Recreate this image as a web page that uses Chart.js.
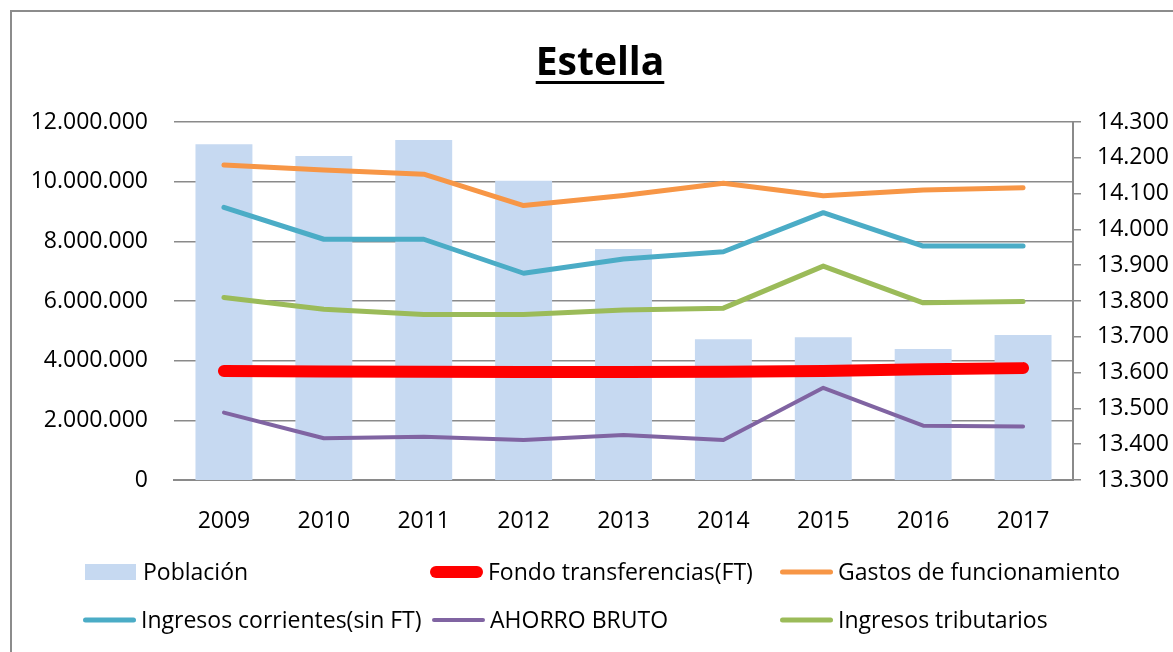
<!DOCTYPE html>
<html>
<head>
<meta charset="utf-8">
<script src="https://cdn.jsdelivr.net/npm/chart.js@4.4.0/dist/chart.umd.min.js"></script>
<style>
  body { margin: 0; background: #fff; }
  #wrap { width: 1173px; height: 652px; position: relative; }
</style>
</head>
<body>
<div id="wrap"><canvas id="chart" width="1173" height="652"></canvas></div>
<script>
// ---------------- DATA ----------------
const years = ['2009', '2010', '2011', '2012', '2013', '2014', '2015', '2016', '2017'];
const poblacion = [14238, 14205, 14250, 14136, 13945, 13693, 13699, 13666, 13705];
const fondoFT = [3655000, 3640000, 3630000, 3620000, 3620000, 3625000, 3650000, 3710000, 3750000];
const gastos = [10560000, 10390000, 10250000, 9200000, 9540000, 9950000, 9530000, 9720000, 9800000];
const ingresosCorrientes = [9140000, 8070000, 8070000, 6930000, 7410000, 7650000, 8960000, 7840000, 7840000];
const ahorroBruto = [2260000, 1400000, 1450000, 1340000, 1510000, 1340000, 3090000, 1820000, 1790000];
const tributarios = [6120000, 5720000, 5550000, 5550000, 5700000, 5760000, 7170000, 5940000, 5980000];
const leftTicks = [0, 2000000, 4000000, 6000000, 8000000, 10000000, 12000000];
const rightTicks = [13300, 13400, 13500, 13600, 13700, 13800, 13900, 14000, 14100, 14200, 14300];

const FONT = '"Open Sans", "Liberation Sans", sans-serif';
const GRID = '#8a8a8a';

function dots(v) {
    return String(v).replace(/\B(?=(\d{3})+(?!\d))/g, '.');
}

function line(label, data, color, width) {
    return {
        type: 'line', label, data, yAxisID: 'y',
        borderColor: color, backgroundColor: color, borderWidth: width,
        borderCapStyle: 'round', borderJoinStyle: 'round',
        pointRadius: 0, tension: 0, order: 1
    };
}

// frame, underlined title and the two-row legend
const decor = {
    id: 'decor',
    beforeDraw(chart) {
        const ctx = chart.ctx;
        ctx.save();
        ctx.fillStyle = '#fff';
        ctx.fillRect(0, 0, chart.width, chart.height);
        ctx.strokeStyle = '#8c8c8c';
        ctx.lineWidth = 2;
        ctx.beginPath();
        ctx.moveTo(11, chart.height);
        ctx.lineTo(11, 11);
        ctx.lineTo(chart.width, 11);
        ctx.stroke();
        ctx.restore();
    },
    afterDraw(chart) {
        const ctx = chart.ctx;
        ctx.save();

        // ---------------- TITLE ----------------
        ctx.font = 'bold 39px ' + FONT;
        ctx.fillStyle = '#000';
        ctx.textAlign = 'center';
        ctx.textBaseline = 'alphabetic';
        const title = 'Estella';
        ctx.fillText(title, 600, 75);
        const w = ctx.measureText(title).width;
        ctx.fillRect(600 - w / 2, 81, w, 3);

        // ---------------- LEGEND ----------------
        const slots = [[85, 572], [430, 572], [780, 572], [83, 620], [432, 620], [780, 620]];
        ctx.font = '23px ' + FONT;
        ctx.textAlign = 'left';
        ctx.textBaseline = 'middle';
        chart.data.datasets.forEach((ds, i) => {
            const [x, y] = slots[i];
            if (ds.type === 'bar') {
                ctx.fillStyle = ds.backgroundColor;
                ctx.fillRect(x, y - 8, 51, 16);
            } else {
                const r = ds.borderWidth / 2;
                ctx.strokeStyle = ds.borderColor;
                ctx.lineWidth = ds.borderWidth;
                ctx.lineCap = 'round';
                ctx.beginPath();
                ctx.moveTo(x + r, y);
                ctx.lineTo(x + 53 - r, y);
                ctx.stroke();
            }
            ctx.fillStyle = '#000';
            ctx.fillText(ds.label, x + 58, y + 1);
        });
        ctx.restore();
    }
};

new Chart(document.getElementById('chart'), {
    data: {
        labels: years,
        datasets: [
            {
                type: 'bar', label: 'Población', data: poblacion, yAxisID: 'y2',
                backgroundColor: '#c6d9f1', barPercentage: 0.57, categoryPercentage: 1, order: 10
            },
            line('Fondo transferencias(FT)', fondoFT, '#ff0000', 12),
            line('Gastos de funcionamiento', gastos, '#f79646', 5),
            line('Ingresos corrientes(sin FT)', ingresosCorrientes, '#4bacc6', 5),
            line('AHORRO BRUTO', ahorroBruto, '#8064a2', 4),
            line('Ingresos tributarios', tributarios, '#9bbb59', 5)
        ]
    },
    options: {
        responsive: false,
        devicePixelRatio: 1,
        animation: false,
        layout: { padding: { top: 122, left: 0, right: 0, bottom: 112 } },
        plugins: {
            legend: { display: false },
            title: { display: false },
            tooltip: { enabled: false }
        },
        scales: {
            x: {
                grid: { display: false },
                border: { display: true, color: GRID, width: 2 },
                ticks: { color: '#000', font: { family: FONT, size: 23 }, padding: 20 },
                afterFit: s => { s.height = 60; }
            },
            y: {
                position: 'left',
                min: 0, max: 12000000,
                grid: { color: GRID, lineWidth: 1.5, drawTicks: false },
                border: { display: false },
                afterBuildTicks: s => { s.ticks = leftTicks.map(v => ({ value: v })); },
                ticks: {
                    color: '#000', font: { family: FONT, size: 23 }, padding: 26,
                    callback: v => dots(v)
                },
                afterFit: s => { s.width = 174; }
            },
            y2: {
                position: 'right',
                min: 13300, max: 14300,
                grid: { drawOnChartArea: false, drawTicks: true, tickLength: 8, color: GRID, lineWidth: 1.5 },
                border: { display: true, color: GRID, width: 2 },
                afterBuildTicks: s => { s.ticks = rightTicks.map(v => ({ value: v })); },
                ticks: {
                    color: '#000', font: { family: FONT, size: 23 }, padding: 16,
                    callback: v => dots(v)
                },
                afterFit: s => { s.width = 100; }
            }
        }
    },
    plugins: [decor]
});
</script>
</body>
</html>
